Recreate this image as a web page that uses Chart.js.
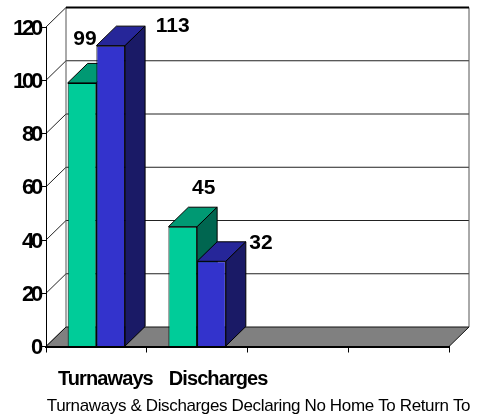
<!DOCTYPE html>
<html>
<head>
<meta charset="utf-8">
<title>Turnaways & Discharges</title>
<style>
  html, body { margin: 0; padding: 0; background: #fff; }
  canvas { display: block; }
</style>
</head>
<body>
<canvas id="myChart" width="484" height="419"></canvas>
<script src="https://cdn.jsdelivr.net/npm/chart.js@4"></script>
<script>
// Chart values
const categories = ["Turnaways", "Discharges", "", ""];
const greenValues = [99, 45, null, null];
const blueValues = [113, 32, null, null];
const yTicks = [0, 20, 40, 60, 80, 100, 120];
const chartCaption = "Turnaways & Discharges Declaring No Home To Return To";

// Depth of the fake 3D box, in pixels
const depthX = 20;
const depthY = 19.5;

// Hand placed label shifts (value labels from the bar's top centre, category labels from the slot centre)
const greenLabelShift = [[3, -44], [21, -38.5]];
const blueLabelShift = [[62, -19], [49.5, -18]];
const categoryLabelShift = [9, 21];

const polygon = (ctx, points, fill) => {
  ctx.beginPath();
  points.forEach(([x, y], i) => (i ? ctx.lineTo(x, y) : ctx.moveTo(x, y)));
  ctx.closePath();
  ctx.fillStyle = fill;
  ctx.fill();
  ctx.stroke();
};

// Squeezes the text of a scale, the stock ticks have no letter spacing option
const squeezeLabels = (scale, spacing, nudgeY) => {
  const drawLabels = scale.drawLabels;
  scale.drawLabels = function (area) {
    const { ctx } = scale;
    ctx.save();
    ctx.letterSpacing = spacing;
    ctx.translate(0, nudgeY);
    drawLabels.call(this, area);
    ctx.restore();
  };
};

// Top and side faces of one bar
const drawBarFaces = (ctx, bar, dataset) => {
  const { x, y, base, width } = bar.getProps(["x", "y", "base", "width"], true);
  const l = x - width / 2;
  const r = x + width / 2;
  polygon(ctx, [[l, y], [l + depthX, y - depthY], [r + depthX, y - depthY], [r, y]], dataset.topColor);
  polygon(ctx, [[r, y], [r + depthX, y - depthY], [r + depthX, base - depthY], [r, base]], dataset.sideColor);
};

// Back wall, floor and the slanted lines going back from the value axis
const boxPlugin = {
  id: "box",
  afterLayout(chart) {
    if (!chart.$squeezed) {
      squeezeLabels(chart.scales.y, "-3.2px", 1.5);
      chart.$squeezed = true;
    }
  },
  beforeDraw(chart) {
    const { ctx, scales } = chart;
    const { left, right, top, bottom } = chart.chartArea;
    ctx.save();

    yTicks.forEach((tick) => {
      const y = scales.y.getPixelForValue(tick);
      ctx.strokeStyle = "#222";
      ctx.lineWidth = 1;
      ctx.beginPath();
      ctx.moveTo(left, y);
      ctx.lineTo(left + depthX, y - depthY);
      if (tick > 0 && tick < 120) {
        ctx.lineTo(right + depthX, y - depthY);
      }
      ctx.stroke();
    });

    // wall edges
    ctx.strokeStyle = "#555";
    ctx.lineWidth = 1;
    ctx.beginPath();
    ctx.moveTo(left + depthX, top - depthY);
    ctx.lineTo(left + depthX, bottom - depthY);
    ctx.moveTo(right + depthX, top - depthY);
    ctx.lineTo(right + depthX, bottom - depthY);
    ctx.stroke();

    ctx.strokeStyle = "#000";
    ctx.lineWidth = 2;
    ctx.beginPath();
    ctx.moveTo(left + depthX, top - depthY);
    ctx.lineTo(right + depthX, top - depthY);
    ctx.stroke();

    // floor
    ctx.lineWidth = 1;
    ctx.strokeStyle = "#111";
    polygon(ctx, [
      [left, bottom],
      [left + depthX, bottom - depthY],
      [right + depthX, bottom - depthY],
      [right, bottom],
    ], "#808080");
    ctx.restore();
  },
  // Datasets are painted here in data order, so the blue bars sit in front of the green ones
  beforeDatasetsDraw(chart) {
    const { ctx } = chart;
    chart.data.datasets.forEach((dataset, d) => {
      const meta = chart.getDatasetMeta(d);
      meta.controller.draw();
      ctx.save();
      ctx.strokeStyle = "#000";
      ctx.lineWidth = 1;
      meta.data.forEach((bar, i) => {
        if (dataset.data[i] != null) drawBarFaces(ctx, bar, dataset);
      });
      ctx.restore();
    });
    return false;
  },
  afterDraw(chart) {
    const { ctx, scales } = chart;
    ctx.save();
    ctx.fillStyle = "#000";
    ctx.textAlign = "center";
    ctx.textBaseline = "middle";

    // value labels
    ctx.font = "bold 21px 'Liberation Sans'";
    chart.data.datasets.forEach((dataset, d) => {
      const meta = chart.getDatasetMeta(d);
      dataset.data.forEach((value, i) => {
        if (value == null) return;
        const bar = meta.data[i];
        const [dx, dy] = dataset.labelShift[i];
        ctx.fillText(String(value), bar.x + dx, bar.y + dy);
      });
    });

    // category labels
    ctx.font = "bold 20px 'Liberation Sans'";
    ctx.letterSpacing = "-0.9px";
    categoryLabelShift.forEach((shift, i) => {
      ctx.fillText(categories[i], scales.x.getPixelForTick(i) + shift, 379);
    });

    // caption under the chart
    ctx.font = "17px 'Liberation Sans'";
    ctx.letterSpacing = "-0.36px";
    ctx.fillText(chartCaption, 258.5, 406.5);
    ctx.restore();
  },
};

new Chart(document.getElementById("myChart"), {
  type: "bar",
  data: {
    labels: categories,
    datasets: [
      {
        data: greenValues,
        backgroundColor: "#00CC99",
        topColor: "#009973",
        sideColor: "#006650",
        labelShift: greenLabelShift,
      },
      {
        data: blueValues,
        backgroundColor: "#3333CC",
        topColor: "#262699",
        sideColor: "#1A1A66",
        labelShift: blueLabelShift,
      },
    ].map((set) => ({ ...set, borderColor: "#000", borderWidth: 1 })),
  },
  options: {
    responsive: false,
    animation: false,
    layout: { padding: { top: 27, right: 35, bottom: 0, left: 0 } },
    plugins: { legend: { display: false }, tooltip: { enabled: false } },
    scales: {
      x: {
        afterFit: (scale) => { scale.height = 72.5; },
        grid: { drawOnChartArea: false, color: "#000", tickLength: 6 },
        border: { color: "#000", width: 2 },
        ticks: { display: false },
      },
      y: {
        min: 0,
        max: 120,
        afterFit: (scale) => { scale.width = 46; },
        grid: { drawOnChartArea: false, color: "#000", tickLength: 5 },
        border: { color: "#000", width: 1 },
        ticks: {
          stepSize: 20,
          padding: 1,
          color: "#000",
          font: { family: "'Liberation Sans'", size: 22, weight: "bold" },
        },
      },
    },
    datasets: { bar: { categoryPercentage: 0.57, barPercentage: 1 } },
  },
  plugins: [boxPlugin],
});
</script>
</body>
</html>
